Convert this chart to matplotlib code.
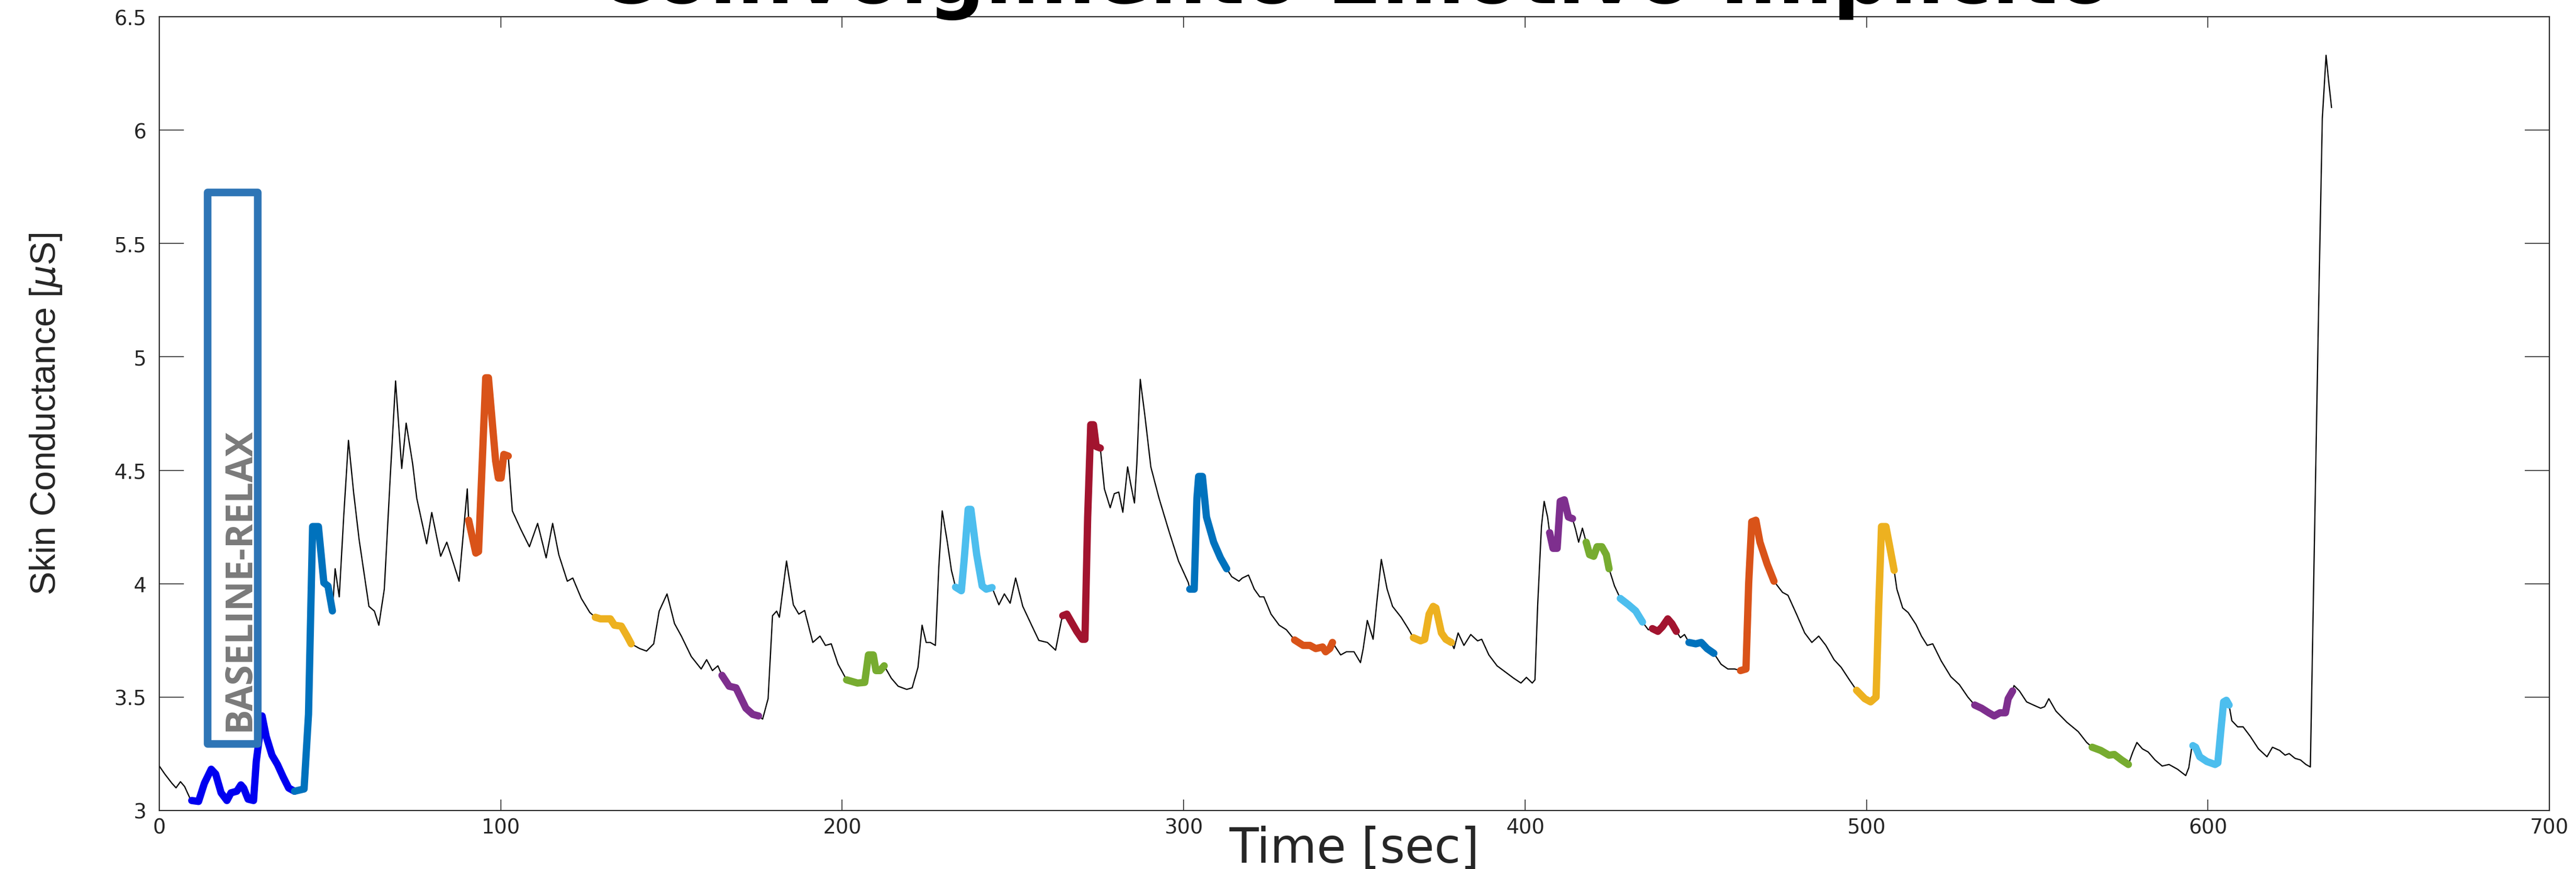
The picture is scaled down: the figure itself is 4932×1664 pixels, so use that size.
import matplotlib
matplotlib.use("Agg")
import matplotlib.pyplot as plt
import numpy as np
from matplotlib.patches import Rectangle

# ---------------- data ----------------
time_s = [
    0.0, 1.6, 3.7, 4.9, 6.2, 7.4, 9.1, 9.5, 11.5, 13.2, 15.2, 16.5, 18.1, 19.8, 21.0, 22.7,
    23.9, 24.7, 26.0, 27.6, 28.4, 30.1, 31.3, 33.0, 34.6, 36.3, 37.9, 39.6, 42.4, 43.7,
    44.9, 46.6, 47.4, 48.2, 49.4, 50.7, 51.5, 52.7, 54.0, 55.4, 56.9, 58.5, 61.4, 63.0,
    64.3, 65.9, 67.6, 69.2, 71.0, 72.3, 74.2, 75.4, 78.3, 79.8, 82.4, 84.2, 87.8, 90.2,
    90.6, 92.7, 93.5, 95.6, 96.4, 98.5, 99.3, 100.1, 100.9, 102.2, 103.4, 105.9, 108.4,
    110.8, 113.3, 115.2, 117.0, 119.5, 121.1, 123.6, 126.1, 127.7, 129.2, 132.1, 133.3,
    135.3, 137.0, 138.2, 140.7, 142.7, 144.8, 146.4, 148.7, 150.9, 152.9, 155.8, 158.7,
    160.3, 162.0, 163.6, 164.8, 166.9, 168.9, 171.8, 173.8, 175.5, 176.7, 178.3, 179.6,
    180.8, 181.6, 183.7, 185.7, 187.3, 189.0, 191.4, 193.5, 195.1, 196.8, 198.8, 201.3,
    204.5, 206.6, 207.7, 209.1, 209.9, 211.1, 212.3, 214.4, 216.4, 218.9, 220.5, 222.2,
    223.4, 224.6, 225.8, 227.3, 228.3, 229.3, 230.8, 232.0, 233.2, 234.9, 235.7, 236.9,
    237.7, 239.4, 241.0, 242.2, 243.9, 245.9, 247.5, 249.2, 250.8, 252.9, 255.7, 257.6,
    260.1, 262.5, 264.2, 264.6, 265.8, 267.4, 268.7, 270.3, 271.1, 271.9, 272.8, 273.6,
    274.4, 275.6, 276.8, 278.5, 279.7, 281.0, 282.2, 283.6, 284.6, 285.6, 286.3, 287.3,
    288.7, 290.4, 292.8, 295.7, 298.5, 301.4, 301.8, 303.1, 303.9, 304.4, 305.5, 306.7,
    308.8, 310.8, 312.6, 314.1, 316.2, 317.2, 319.0, 320.7, 322.3, 323.5, 325.6, 328.0,
    330.1, 332.5, 335.0, 337.0, 338.7, 340.7, 341.6, 342.8, 343.6, 346.0, 347.7, 349.9,
    351.8, 352.6, 353.8, 355.5, 356.7, 357.9, 359.6, 361.2, 363.7, 365.7, 367.3, 369.4,
    370.6, 371.9, 373.1, 373.9, 375.5, 376.8, 378.4, 379.2, 380.4, 382.1, 384.1, 386.1,
    387.3, 389.4, 391.8, 394.3, 396.7, 398.8, 400.4, 402.1, 402.9, 403.7, 404.8, 405.6,
    406.6, 407.2, 408.2, 409.4, 410.3, 411.5, 412.7, 413.9, 414.8, 415.7, 416.8, 417.9,
    418.9, 420.1, 421.1, 422.5, 423.8, 424.6, 426.2, 427.9, 430.3, 432.4, 434.4, 436.1,
    437.3, 438.9, 440.2, 441.8, 443.0, 444.3, 445.5, 446.7, 448.0, 450.0, 451.6, 453.3,
    455.3, 457.4, 459.4, 461.4, 463.1, 464.7, 465.5, 466.4, 467.6, 468.8, 470.9, 472.9,
    475.4, 477.0, 479.5, 481.9, 484.0, 486.0, 488.1, 490.5, 492.6, 495.0, 497.1, 499.5,
    501.2, 502.8, 503.6, 504.4, 505.7, 506.9, 508.1, 508.9, 510.6, 512.2, 514.5, 516.1,
    517.8, 519.4, 521.9, 524.7, 527.2, 529.7, 531.7, 533.7, 535.8, 537.4, 539.1, 540.7,
    541.5, 542.8, 543.2, 544.8, 546.9, 548.9, 551.0, 552.2, 553.4, 555.5, 558.7, 562.0,
    564.5, 566.1, 568.6, 571.0, 572.6, 574.7, 576.7, 578.0, 579.2, 580.8, 582.5, 584.5,
    586.6, 588.6, 591.1, 593.5, 594.4, 595.2, 595.6, 596.4, 597.6, 599.7, 602.1, 602.9,
    603.8, 604.6, 605.4, 606.2, 607.0, 608.7, 610.3, 612.4, 614.8, 617.3, 618.9, 621.0,
    622.6, 623.8, 625.5, 627.1, 628.7, 630.0, 632.4, 633.5, 634.6, 635.4, 636.2,
]

conductance_uS = [
    3.196, 3.161, 3.120, 3.100, 3.127, 3.106, 3.050, 3.044, 3.040, 3.120, 3.182, 3.161, 3.078, 3.044, 3.078, 3.085,
    3.113, 3.099, 3.050, 3.044, 3.217, 3.417, 3.327, 3.244, 3.203, 3.147, 3.099, 3.085, 3.095, 3.424,
    4.252, 4.252, 4.128, 4.004, 3.990, 3.880, 4.066, 3.942, 4.294, 4.632, 4.404, 4.197, 3.900, 3.879,
    3.817, 3.976, 4.460, 4.894, 4.508, 4.708, 4.529, 4.377, 4.176, 4.314, 4.121, 4.183, 4.011, 4.418,
    4.280, 4.135, 4.142, 4.908, 4.908, 4.542, 4.466, 4.466, 4.570, 4.563, 4.321, 4.239, 4.163,
    4.266, 4.114, 4.266, 4.128, 4.011, 4.025, 3.935, 3.873, 3.852, 3.845, 3.845, 3.817,
    3.813, 3.769, 3.735, 3.714, 3.703, 3.735, 3.879, 3.955, 3.824, 3.769, 3.679, 3.624,
    3.665, 3.617, 3.638, 3.596, 3.548, 3.541, 3.451, 3.424, 3.417, 3.403, 3.493, 3.859,
    3.879, 3.852, 4.100, 3.907, 3.866, 3.882, 3.741, 3.769, 3.728, 3.735, 3.645, 3.576,
    3.562, 3.565, 3.686, 3.686, 3.617, 3.617, 3.638, 3.583, 3.548, 3.534, 3.541, 3.631,
    3.817, 3.741, 3.741, 3.728, 4.073, 4.321, 4.183, 4.059, 3.985, 3.969, 4.100, 4.328,
    4.328, 4.128, 3.990, 3.976, 3.983, 3.907, 3.955, 3.914, 4.025, 3.900, 3.810, 3.750,
    3.741, 3.707, 3.838, 3.859, 3.866, 3.824, 3.790, 3.755, 3.755, 4.294, 4.701, 4.701,
    4.605, 4.598, 4.418, 4.335, 4.397, 4.404, 4.315, 4.515, 4.432, 4.356, 4.529, 4.901,
    4.736, 4.515, 4.377, 4.232, 4.100, 4.004, 3.976, 3.976, 4.377, 4.473, 4.473, 4.294,
    4.183, 4.114, 4.066, 4.031, 4.011, 4.025, 4.038, 3.976, 3.942, 3.942, 3.866, 3.817,
    3.797, 3.752, 3.728, 3.728, 3.714, 3.721, 3.700, 3.714, 3.741, 3.686, 3.700, 3.700,
    3.652, 3.714, 3.838, 3.755, 3.935, 4.107, 3.976, 3.900, 3.852, 3.804, 3.762, 3.748,
    3.755, 3.866, 3.900, 3.893, 3.783, 3.755, 3.741, 3.714, 3.783, 3.728, 3.776, 3.748,
    3.755, 3.686, 3.638, 3.610, 3.583, 3.562, 3.587, 3.562, 3.576, 3.907, 4.252, 4.363,
    4.294, 4.225, 4.156, 4.156, 4.363, 4.370, 4.294, 4.287, 4.239, 4.183, 4.245, 4.183,
    4.128, 4.121, 4.163, 4.163, 4.128, 4.066, 3.990, 3.935, 3.907, 3.880, 3.831, 3.797,
    3.802, 3.790, 3.810, 3.845, 3.824, 3.790, 3.762, 3.776, 3.741, 3.735, 3.741, 3.714,
    3.693, 3.645, 3.624, 3.624, 3.617, 3.624, 4.004, 4.273, 4.280, 4.183, 4.087, 4.011,
    3.962, 3.949, 3.866, 3.783, 3.741, 3.769, 3.728, 3.665, 3.631, 3.576, 3.530, 3.493,
    3.479, 3.500, 3.907, 4.252, 4.252, 4.156, 4.059, 3.976, 3.893, 3.873, 3.820, 3.769,
    3.728, 3.735, 3.659, 3.590, 3.555, 3.500, 3.465, 3.451, 3.431, 3.417, 3.431, 3.431,
    3.493, 3.527, 3.551, 3.527, 3.479, 3.465, 3.451, 3.458, 3.493, 3.438, 3.389, 3.348,
    3.300, 3.279, 3.265, 3.244, 3.247, 3.223, 3.203, 3.258, 3.300, 3.272, 3.258, 3.223,
    3.196, 3.203, 3.182, 3.154, 3.189, 3.272, 3.286, 3.279, 3.237, 3.216, 3.203, 3.210,
    3.355, 3.479, 3.486, 3.465, 3.396, 3.369, 3.369, 3.327, 3.272, 3.237, 3.279, 3.265,
    3.244, 3.251, 3.230, 3.223, 3.203, 3.192, 5.200, 6.050, 6.330, 6.210, 6.100,
]

# highlighted stimulus windows (start, end in seconds) and their colours
segment_starts = [9.5, 39.6, 90.6, 127.7, 164.8, 201.3, 233.2, 264.6, 301.8, 332.5, 367.3,
                  407.2, 417.9, 427.9, 437.3, 448.0, 463.1, 497.1, 531.7, 566.1, 595.6]
segment_ends = [39.6, 50.7, 102.2, 138.2, 175.5, 212.3, 243.9, 275.6, 312.6, 343.6, 378.4,
                413.9, 424.6, 434.4, 444.3, 455.3, 472.9, 508.1, 542.8, 576.7, 606.2]
segment_colors = ["#0000F0", "#0072BD", "#D95319", "#EDB120", "#7E2F8E", "#77AC30", "#4DBEEE",
                  "#A2142F", "#0072BD", "#D95319", "#EDB120", "#7E2F8E", "#77AC30", "#4DBEEE",
                  "#A2142F", "#0072BD", "#D95319", "#EDB120", "#7E2F8E", "#77AC30", "#4DBEEE"]

# baseline annotation box (data coordinates: t0, t1, v0, v1)
baseline_box = (14.1, 28.7, 3.295, 5.726)
baseline_label = "BASELINE-RELAX"
baseline_label_pos = (23.4, 4.02)

x_ticks = [0, 100, 200, 300, 400, 500, 600, 700]
y_ticks = [3, 3.5, 4, 4.5, 5, 5.5, 6, 6.5]
y_tick_labels = ["3", "3.5", "4", "4.5", "5", "5.5", "6", "6.5"]

title_text = "Coinvolgimento Emotivo Implicito"
x_label = "Time [sec]"
y_label = r"Skin Conductance [$\mu$S]"

# ---------------- figure ----------------
W, H = 4932, 1665
DPI = 100
fig = plt.figure(figsize=(W / DPI, H / DPI), dpi=DPI)
fig.patch.set_facecolor("white")

ax_left, ax_right, ax_top, ax_bottom = 305, 4881, 33, 1553
ax = fig.add_axes([ax_left / W, 1 - ax_bottom / H,
                   (ax_right - ax_left) / W, (ax_bottom - ax_top) / H])

t = np.array(time_s)
v = np.array(conductance_uS)

ax.plot(t, v, color="black", lw=1.7, zorder=2)
for s, e, c in zip(segment_starts, segment_ends, segment_colors):
    m = (t >= s - 1e-9) & (t <= e + 1e-9)
    ax.plot(t[m], v[m], color=c, lw=10, solid_capstyle="round",
            solid_joinstyle="round", zorder=3)

bx0, bx1, by0, by1 = baseline_box
ax.add_patch(Rectangle((bx0, by0), bx1 - bx0, by1 - by0, fill=False,
                       edgecolor="#2E75B6", lw=10.5, joinstyle="round", zorder=4))
ax.text(baseline_label_pos[0], baseline_label_pos[1], baseline_label, rotation=90,
        ha="center", va="center", fontsize=51, fontweight="bold",
        family=["Open Sans", "DejaVu Sans"], color="#7A7A7A", zorder=5)

ax.set_xlim(0, 700)
ax.set_ylim(3, 6.5)
ax.set_xticks(x_ticks)
ax.set_xticklabels([str(x) for x in x_ticks])
ax.set_yticks(y_ticks)
ax.set_yticklabels(y_tick_labels)

axis_col = "#262626"
for sp in ax.spines.values():
    sp.set_color(axis_col)
    sp.set_linewidth(1.6)
ax.tick_params(axis="both", which="both", direction="in", top=True, right=True,
               colors=axis_col, width=1.2, labelsize=28, labelcolor=axis_col)
ax.tick_params(axis="x", length=15, pad=10)
ax.tick_params(axis="y", length=34, pad=18)
for lab in ax.get_xticklabels() + ax.get_yticklabels():
    lab.set_family("DejaVu Sans")

ax.set_xlabel(x_label, fontsize=66, color=axis_col, family="DejaVu Sans", va="baseline")
ax.xaxis.set_label_coords(0.5, (ax_bottom - 1652) / (ax_bottom - ax_top))
ax.set_ylabel(y_label, fontsize=49, color=axis_col,
              family=["Liberation Sans", "DejaVu Sans"], va="center")
ax.yaxis.set_label_coords((88 - ax_left) / (ax_right - ax_left), 0.5)

ax.set_title(title_text, fontsize=110, fontweight="bold", color="black",
             family="DejaVu Sans", y=(ax_bottom - 6) / (ax_bottom - ax_top), pad=0,
             va="baseline")

fig.savefig("out.png", dpi=DPI, facecolor="white")
